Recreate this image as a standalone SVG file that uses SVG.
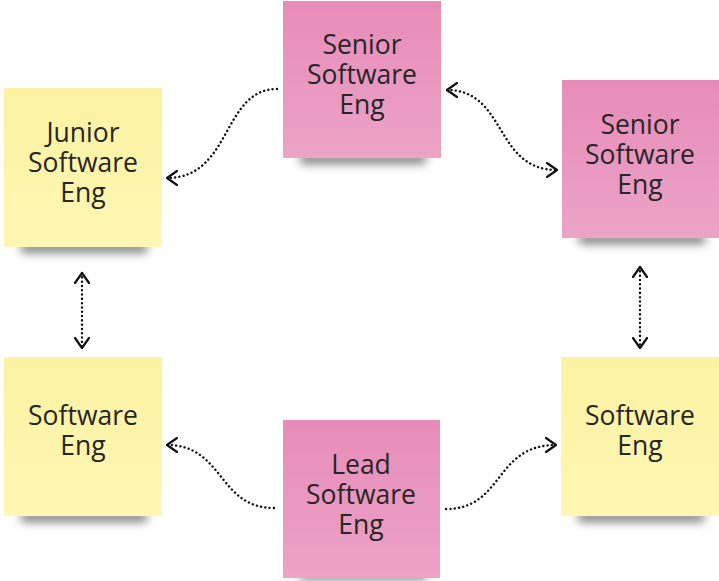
<svg xmlns="http://www.w3.org/2000/svg" width="719" height="581" viewBox="0 0 719 581">
<defs>
<linearGradient id="gy" x1="0" y1="0" x2="0" y2="1"><stop offset="0" stop-color="#fcf2a2"/><stop offset="1" stop-color="#fef7b4"/></linearGradient>
<linearGradient id="gp" x1="0" y1="0" x2="0" y2="1"><stop offset="0" stop-color="#e78cb8"/><stop offset="1" stop-color="#eca3c6"/></linearGradient>
<filter id="blur" x="-30%" y="-150%" width="160%" height="400%"><feGaussianBlur stdDeviation="5"/></filter>
<marker id="ah" viewBox="0 0 12 16" refX="11" refY="8" markerWidth="12" markerHeight="16" markerUnits="userSpaceOnUse" orient="auto-start-reverse"><path d="M1,1 L11,8 L1,15" fill="none" stroke="#111" stroke-width="2.2" stroke-linecap="round" stroke-linejoin="round"/></marker>
</defs>
<style>
.shadow{fill:#000;opacity:0.5;filter:url(#blur)}
.y{fill:url(#gy)}
.p{fill:url(#gp)}
.t{font-family:"Open Sans","Noto Sans","DejaVu Sans",sans-serif;font-size:26.5px;fill:#262626;text-anchor:middle}
.c{fill:none;stroke:#111;stroke-width:2.4;stroke-dasharray:0.1 4.2;stroke-linecap:round}
</style>
<g id="junior">
<rect class="shadow" x="20" y="243" width="128" height="10" rx="5"/>
<rect class="y" x="4" y="88" width="158" height="159"/>
<text class="t" x="83" y="142">Junior</text>
<text class="t" x="83" y="172">Software</text>
<text class="t" x="83" y="202">Eng</text>
</g>
<g id="senior-top">
<rect class="shadow" x="299" y="154" width="128" height="10" rx="5"/>
<rect class="p" x="283" y="1" width="158" height="157"/>
<text class="t" x="362" y="54">Senior</text>
<text class="t" x="362" y="84">Software</text>
<text class="t" x="362" y="114">Eng</text>
</g>
<g id="senior-right">
<rect class="shadow" x="578" y="234" width="128" height="10" rx="5"/>
<rect class="p" x="562" y="80" width="157" height="158"/>
<text class="t" x="640" y="134">Senior</text>
<text class="t" x="640" y="164">Software</text>
<text class="t" x="640" y="194">Eng</text>
</g>
<g id="software-left">
<rect class="shadow" x="20" y="512" width="128" height="10" rx="5"/>
<rect class="y" x="4" y="357" width="158" height="159"/>
<text class="t" x="83" y="425">Software</text>
<text class="t" x="83" y="455">Eng</text>
</g>
<g id="lead">
<rect class="shadow" x="299" y="572" width="128" height="8" rx="4"/>
<rect class="p" x="283" y="420" width="157" height="158"/>
<text class="t" x="361" y="474">Lead</text>
<text class="t" x="361" y="504">Software</text>
<text class="t" x="361" y="534">Eng</text>
</g>
<g id="software-right">
<rect class="shadow" x="577" y="512" width="128" height="10" rx="5"/>
<rect class="y" x="561" y="357" width="158" height="159"/>
<text class="t" x="640" y="425">Software</text>
<text class="t" x="640" y="455">Eng</text>
</g>
<g id="connectors">
<path class="c" d="M277,89 C222,89 232,178 167,178" marker-end="url(#ah)"/>
<path class="c" d="M447,90 C507,90 494,170 557,170" marker-start="url(#ah)" marker-end="url(#ah)"/>
<path class="c" d="M82,273 L82,348" marker-start="url(#ah)" marker-end="url(#ah)"/>
<path class="c" d="M640,267 L640,348" marker-start="url(#ah)" marker-end="url(#ah)"/>
<path class="c" d="M274,508 C218,508 224,445 167,445" marker-end="url(#ah)"/>
<path class="c" d="M446,509 C504,509 494,445 556,445" marker-end="url(#ah)"/>
</g>
</svg>
